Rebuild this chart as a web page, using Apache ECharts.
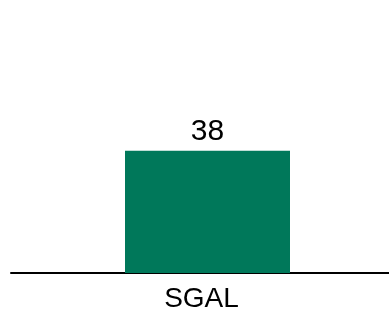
<!DOCTYPE html>
<html>
<head>
<meta charset="utf-8">
<script src="https://cdn.jsdelivr.net/npm/echarts@6/dist/echarts.min.js"></script>
<style>
  html, body { margin: 0; padding: 0; background: #ffffff; }
  #chart { width: 389px; height: 328px; }
</style>
</head>
<body>
<div id="chart"></div>
<script>
// Single-category bar chart
const categories = ['SGAL'];
const values = [38];

const FONT = 'Liberation Sans, Arial, sans-serif';

const chart = echarts.init(document.getElementById('chart'), null, { renderer: 'canvas' });

chart.setOption({
  animation: false,
  backgroundColor: '#ffffff',
  // grid 0 carries the baseline and category label, grid 1 carries the bar
  grid: [
    { left: 11, right: 0, top: 112, bottom: 55 },
    { left: 26, right: 0, top: 112, bottom: 55 }
  ],
  xAxis: [
    {
      gridIndex: 0,
      type: 'category',
      data: categories,
      axisLine: { show: true, lineStyle: { color: '#000000', width: 2 } },
      axisTick: { show: false },
      axisLabel: { color: '#000000', fontFamily: FONT, fontSize: 28, margin: 12, padding: [0, 0, 0, 3] }
    },
    {
      gridIndex: 1,
      type: 'category',
      data: categories,
      show: false
    }
  ],
  yAxis: [
    { gridIndex: 0, type: 'value', min: 0, max: 50, show: false },
    { gridIndex: 1, type: 'value', min: 0, max: 50, show: false }
  ],
  series: [{
    type: 'bar',
    xAxisIndex: 1,
    yAxisIndex: 1,
    data: values,
    barWidth: 165,
    itemStyle: { color: '#00785A' },
    label: {
      show: true,
      position: 'top',
      distance: 4,
      color: '#000000',
      fontFamily: FONT,
      fontSize: 30
    }
  }]
});
</script>
</body>
</html>
